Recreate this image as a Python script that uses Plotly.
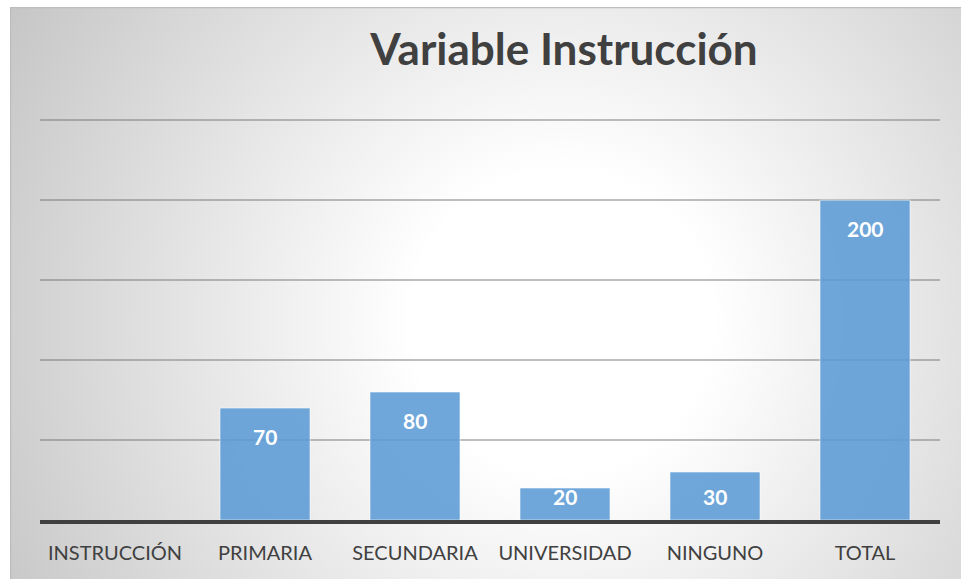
import base64
import plotly.graph_objects as go

# ── data ─────────────────────────────────────
categorias = ["INSTRUCCIÓN", "PRIMARIA", "SECUNDARIA", "UNIVERSIDAD", "NINGUNO", "TOTAL"]
valores = [None, 70, 80, 20, 30, 200]
titulo = "Variable Instrucción"

COLORS = {
    "bar": "rgba(91,155,213,0.88)",
    "bar_edge": "rgba(255,255,255,0.55)",
    "text": "#404040",
    "axis": "#404040",
    "grid": "rgba(110,110,110,0.45)",
}
FONT = "Lato, Open Sans, sans-serif"

# radial gradient background (Excel style chart area)
svg = """<svg xmlns='http://www.w3.org/2000/svg' width='951' height='572' viewBox='0 0 951 572' preserveAspectRatio='none'>
<defs><radialGradient id='g' cx='0.58' cy='0.55' r='0.72' gradientTransform='translate(0.58 0.55) scale(1 1.66) translate(-0.58 -0.55)'>
<stop offset='0' stop-color='#ffffff'/><stop offset='0.22' stop-color='#ffffff'/><stop offset='1' stop-color='#c0c0c0'/>
</radialGradient></defs>
<rect x='0' y='0' width='951' height='572' fill='url(#g)'/>
<path d='M0.5 572 L0.5 0.5 L951 0.5' fill='none' stroke='#bdbdbd' stroke-width='1.5'/>
</svg>"""
bg_src = "data:image/svg+xml;base64," + base64.b64encode(svg.encode()).decode()

fig = go.Figure()

fig.add_trace(go.Bar(
    x=categorias,
    y=valores,
    marker_color=COLORS["bar"],
    marker_line=dict(color=COLORS["bar_edge"], width=1),
    hoverinfo="x+y",
    showlegend=False,
))

# data labels, just inside the top of each bar (kept inside short bars)
for cat, val in zip(categorias, valores):
    if val is None:
        continue
    fig.add_annotation(
        x=cat, y=max(val - 17.5, 15),
        text=f"<b>{val}</b>",
        showarrow=False,
        font=dict(family=FONT, size=21, color="white"),
    )

# plot area: 900 px wide, 1.6 px per unit; background spans the chart frame
YMAX = 252
W, L = 900, 40
H = round(YMAX * 1.6)
T = 520 - H
fig.add_layout_image(
    source=bg_src,
    xref="paper", yref="paper",
    x=(10 - L) / W, y=1 + (T - 7) / H,
    sizex=951 / W, sizey=572 / H,
    xanchor="left", yanchor="top",
    sizing="stretch",
    layer="below",
)

fig.update_layout(
    width=961, height=579,
    margin=dict(l=L, r=961 - L - W, t=T, b=579 - T - H),
    paper_bgcolor="white",
    plot_bgcolor="rgba(0,0,0,0)",
    bargap=0.4,
    font=dict(family=FONT, color=COLORS["text"]),
    title=dict(
        text=f"<b>{titulo}</b>",
        font=dict(size=44, color=COLORS["text"]),
        x=564 / 961, xanchor="center",
        y=1 - 50 / 579, yanchor="middle",
    ),
)

fig.update_xaxes(
    tickfont=dict(size=20, color=COLORS["text"]),
    ticklabelstandoff=12,
    showline=True,
    linecolor=COLORS["axis"],
    linewidth=4,
    ticks="",
    showgrid=False,
)
fig.update_yaxes(
    range=[0, YMAX],
    dtick=50,
    showticklabels=False,
    gridcolor=COLORS["grid"],
    gridwidth=1.5,
    zeroline=False,
    showline=False,
)

fig.write_html(
    "out.html",
    config={"displayModeBar": False},
    post_script="document.body.style.margin='0';",
)
